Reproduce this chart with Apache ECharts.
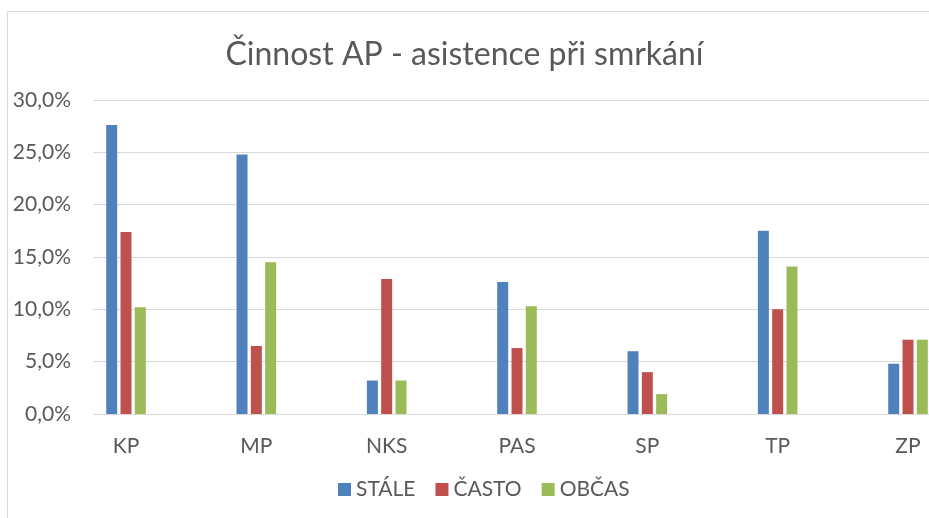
<!DOCTYPE html>
<html>
<head>
<meta charset="utf-8">
<script src="https://cdn.jsdelivr.net/npm/echarts@6/dist/echarts.min.js"></script>
<style>
  html, body { margin: 0; padding: 0; background: #fff; }
  #chart { width: 929px; height: 518px; }
</style>
</head>
<body>
<div id="chart"></div>
<script>
  const categories = ['KP', 'MP', 'NKS', 'PAS', 'SP', 'TP', 'ZP']
  const seriesNames = ['STÁLE', 'ČASTO', 'OBČAS']
  // podíly (0-1)
  const stale = [0.276, 0.248, 0.032, 0.126, 0.060, 0.175, 0.048]
  const casto = [0.174, 0.065, 0.129, 0.063, 0.040, 0.100, 0.071]
  const obcas = [0.102, 0.145, 0.032, 0.103, 0.019, 0.141, 0.071]
  const colors = ['#4F81BD', '#C0504D', '#9BBB59']

  const textColor = '#595959'
  const font = 'Lato'

  function pct (v) {
    return (v * 100).toFixed(1).replace('.', ',') + '%'
  }

  let chart = echarts.init(document.getElementById('chart'))
  chart.setOption({
    animation: false,
    color: colors,
    title: {
      text: 'Činnost AP - asistence při smrkání',
      left: 'center',
      top: 34,
      textStyle: { fontFamily: font, fontSize: 32, fontWeight: 'normal', color: textColor }
    },
    legend: {
      data: seriesNames,
      top: 474,
      left: 333,
      itemWidth: 13,
      itemHeight: 13,
      itemGap: 20,
      icon: 'rect',
      textStyle: { fontFamily: font, fontSize: 21, color: textColor }
    },
    graphic: [{
      type: 'rect',
      shape: { x: 7.5, y: 11.5, width: 1000, height: 1000 },
      style: { fill: 'none', stroke: '#d9d9d9', lineWidth: 1 },
      silent: true
    }],
    grid: [
      // mřížka a popisky osy y
      { left: 93, right: 0, top: 100, bottom: 104 },
      // sloupce: středy kategorií od KP po ZP
      { left: 126, right: 21, top: 100, bottom: 104 }
    ],
    xAxis: [
      { gridIndex: 0, type: 'value', show: false },
      {
        gridIndex: 1,
        type: 'category',
        data: categories,
        boundaryGap: false,
        axisLine: { show: false },
        axisTick: { show: false },
        axisLabel: { margin: 22, fontFamily: font, fontSize: 21, color: textColor }
      }
    ],
    yAxis: [
      {
        gridIndex: 0,
        type: 'value',
        min: 0,
        max: 0.3,
        interval: 0.05,
        axisLine: { show: false },
        axisTick: { show: false },
        axisLabel: { margin: 22, fontFamily: font, fontSize: 21, color: textColor, formatter: pct },
        splitLine: { lineStyle: { color: '#d9d9d9', width: 1 } }
      },
      { gridIndex: 1, type: 'value', min: 0, max: 0.3, show: false, splitLine: { show: false } }
    ],
    series: [
      { name: seriesNames[0], type: 'bar', xAxisIndex: 1, yAxisIndex: 1, data: stale, barWidth: 11, barGap: '30%' },
      { name: seriesNames[1], type: 'bar', xAxisIndex: 1, yAxisIndex: 1, data: casto, barWidth: 11, barGap: '30%' },
      { name: seriesNames[2], type: 'bar', xAxisIndex: 1, yAxisIndex: 1, data: obcas, barWidth: 11, barGap: '30%' }
    ]
  })
</script>
</body>
</html>
